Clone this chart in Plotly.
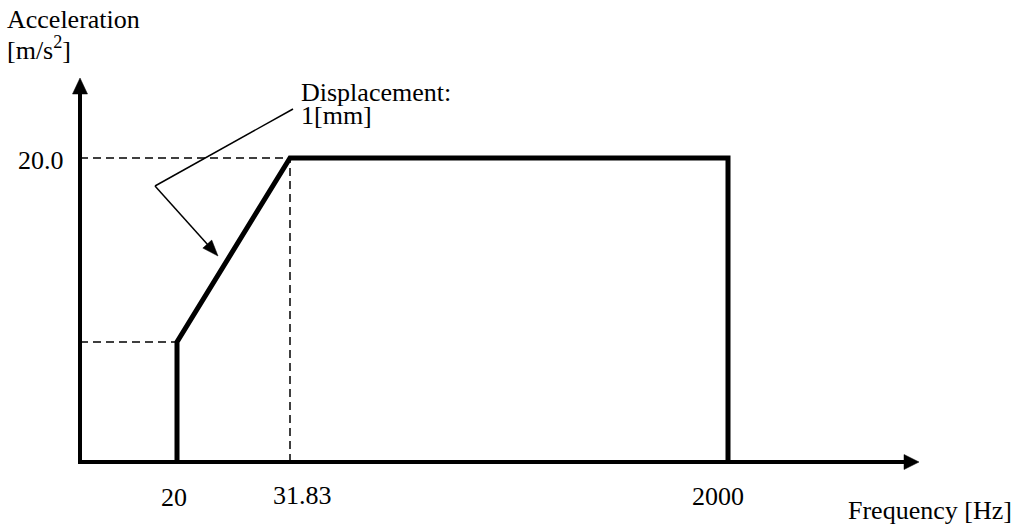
import math
import plotly.graph_objects as go

# ---- data (vibration test profile) ----
freq_ticks = [20, 31.83, 2000]          # Hz
freq_tick_labels = ["20", "31.83", "2000"]
accel_low = 7.9                          # m/s^2 at 20 Hz (1 mm displacement)
accel_high = 20.0                        # m/s^2 plateau
accel_tick_label = "20.0"
profile_freq = [20, 20, 31.83, 2000, 2000]
profile_accel = [0, accel_low, accel_high, accel_high, 0]

# ---- schematic (non-proportional) frequency axis ----
freq_axis_pos = {20: 97, 31.83: 210, 2000: 648}
W, H = 1019, 526
ORIGIN_PX, BASE_PY = 80, 462
X_TIP_PX, Y_TIP_PY = 919, 78
PX_PER_UNIT = 15.2

def fx(f):
    return freq_axis_pos[f]

def px2x(px):
    return px - ORIGIN_PX

def px2y(py):
    return (BASE_PY - py) / PX_PER_UNIT

def arrow_head(tip, tail, length, half_w):
    """Triangle path (data coords) for an arrowhead given pixel tip/tail."""
    dx, dy = tip[0] - tail[0], tip[1] - tail[1]
    n = math.hypot(dx, dy)
    ux, uy = dx / n, dy / n
    bx, by = tip[0] - ux * length, tip[1] - uy * length
    px_, py_ = -uy * half_w, ux * half_w
    pts = [tip, (bx + px_, by + py_), (bx - px_, by - py_)]
    d = "M " + " L ".join(f"{px2x(a):.3f},{px2y(b):.4f}" for a, b in pts) + " Z"
    return dict(type="path", xref="x", yref="y", path=d, fillcolor="black",
                line=dict(color="black", width=0.5))

FONT = dict(family="Liberation Serif, Times New Roman, serif", size=26, color="black")

fig = go.Figure()

# dashed guide lines
dash = dict(color="black", width=1.5, dash="8px,5px")
fig.add_trace(go.Scatter(x=[0, fx(20)], y=[accel_low, accel_low], mode="lines",
                         line=dash, hoverinfo="skip"))
fig.add_trace(go.Scatter(x=[0, fx(31.83)], y=[accel_high, accel_high], mode="lines",
                         line=dash, hoverinfo="skip"))
fig.add_trace(go.Scatter(x=[fx(31.83), fx(31.83)], y=[0, accel_high], mode="lines",
                         line=dash, hoverinfo="skip"))

# profile
fig.add_trace(go.Scatter(x=[fx(f) for f in profile_freq], y=profile_accel, mode="lines",
                         line=dict(color="black", width=5), hoverinfo="skip"))

shapes = [
    # axes
    dict(type="line", xref="x", yref="y", x0=0, y0=0, x1=px2x(X_TIP_PX - 12), y1=0,
         line=dict(color="black", width=4)),
    dict(type="line", xref="x", yref="y", x0=0, y0=-0.13, x1=0, y1=px2y(Y_TIP_PY + 12),
         line=dict(color="black", width=4)),
    arrow_head((X_TIP_PX, BASE_PY), (ORIGIN_PX, BASE_PY), 15, 7.5),
    arrow_head((ORIGIN_PX, Y_TIP_PY), (ORIGIN_PX, BASE_PY), 16, 7.5),
    # pointer leader line + arrow
    dict(type="line", xref="x", yref="y", x0=px2x(155), y0=px2y(186),
         x1=px2x(293), y1=px2y(109), line=dict(color="black", width=1.5)),
    dict(type="line", xref="x", yref="y", x0=px2x(155), y0=px2y(186),
         x1=px2x(208), y1=px2y(245), line=dict(color="black", width=1.5)),
    arrow_head((218, 256), (155, 186), 16, 6),
]

annotations = [
    # axis titles
    dict(x=px2x(6), y=px2y(19), xref="x", yref="y", text="Acceleration",
         showarrow=False, xanchor="left", yanchor="middle", font=FONT, borderpad=0),
    dict(x=px2x(6), y=px2y(48), xref="x", yref="y", text="[m/s<sup>2</sup>]",
         showarrow=False, xanchor="left", yanchor="middle", font=FONT, borderpad=0),
    dict(x=px2x(847), y=px2y(510), xref="x", yref="y", text="Frequency [Hz]",
         showarrow=False, xanchor="left", yanchor="middle", font=FONT, borderpad=0),
    # callout text
    dict(x=px2x(300), y=px2y(92), xref="x", yref="y", text="Displacement:",
         showarrow=False, xanchor="left", yanchor="middle", font=FONT, borderpad=0),
    dict(x=px2x(300), y=px2y(115), xref="x", yref="y", text="1[mm]",
         showarrow=False, xanchor="left", yanchor="middle", font=FONT, borderpad=0),
    # y tick label
    dict(x=px2x(65), y=accel_high, yshift=-2, xref="x", yref="y", text=accel_tick_label,
         showarrow=False, xanchor="right", yanchor="middle", font=FONT, borderpad=0),
]

label_shift = {20: (-3, 497), 31.83: (12, 495), 2000: (-10, 496)}
for f, lab in zip(freq_ticks, freq_tick_labels):
    dx, py = label_shift[f]
    annotations.append(dict(x=fx(f), xshift=dx, y=px2y(py), xref="x", yref="y", text=lab,
                            showarrow=False, xanchor="center", yanchor="middle",
                            font=FONT, borderpad=0))

fig.update_layout(
    width=W, height=H,
    margin=dict(l=0, r=0, t=0, b=0, pad=0),
    paper_bgcolor="white", plot_bgcolor="white",
    showlegend=False,
    xaxis=dict(range=[px2x(0), px2x(W)], visible=False, fixedrange=True),
    yaxis=dict(range=[px2y(H), px2y(0)], visible=False, fixedrange=True),
    shapes=shapes,
    annotations=annotations,
    font=FONT,
)

fig.write_html("out.html", config={"displayModeBar": False},
               post_script="document.body.style.margin='0';document.body.style.overflow='hidden';")
